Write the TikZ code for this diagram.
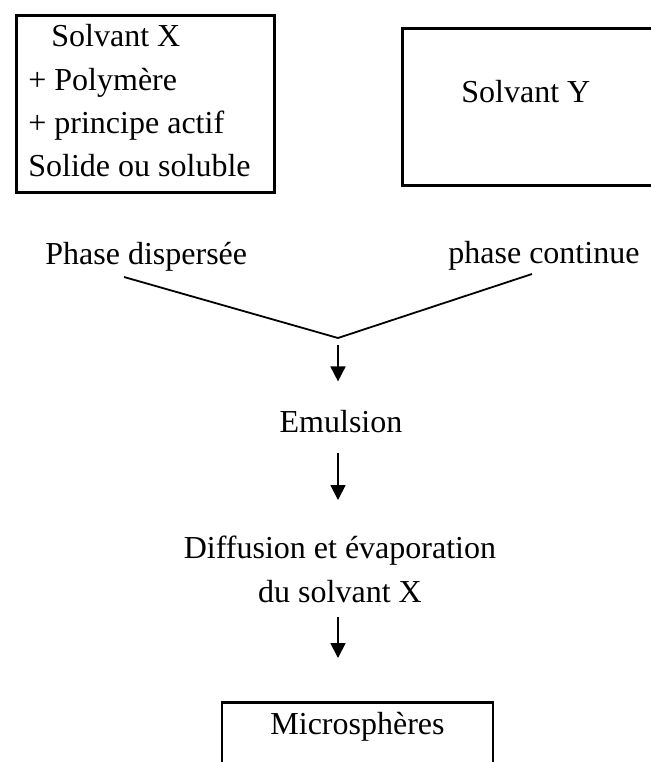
\documentclass[tikz,border=0pt]{standalone}
\usepackage{fontspec}
\setmainfont{Liberation Serif}
\usetikzlibrary{arrows.meta}
\tikzset{
  texte/.style={inner sep=0pt,font=\fontsize{16}{21.7}\selectfont},
  boite/.style={texte,draw=black,line width=1.4pt,rectangle},
  trait/.style={black,line width=0.9pt},
  fleche/.style={black,line width=0.9pt,-{Triangle[length=7.5pt,width=7.5pt]}}
}
\begin{document}
\begin{tikzpicture}[x=0.5pt,y=-0.5pt]
\useasboundingbox (0,0) rectangle (651,762);
\clip (0,0) rectangle (651,762);
% Solvants
\node[boite,anchor=north west,text width=117pt,align=left,inner xsep=6pt,inner ysep=4.5pt,minimum height=88.5pt](solvX)at(15,14){\spaceskip=0pt\xspaceskip=0pt\hspace*{11.5pt}Solvant X\\+ Polymère\\+ principe actif\\Solide ou soluble\rule[-3.5pt]{0pt}{3.5pt}};
\node[boite,anchor=north west,text width=70.5pt,align=left,inner xsep=29.5pt,inner ysep=26pt,text height=11pt,text depth=15.5pt](solvY)at(401,27){\spaceskip=0pt\xspaceskip=0pt Solvant Y};

% Phases
\node[texte,anchor=base west](dispersee)at(45,264){Phase dispersée};
\node[texte,anchor=base west](continue)at(448,263){phase continue};
\coordinate(pd)at(124,277);
\coordinate(pc)at(532,274);
\coordinate(jonction)at(338,338);
\draw[trait](pd)--(jonction)--(pc);

% Etapes
\node[texte,anchor=base](emulsion)at(341,432){Emulsion};
\node[texte,anchor=north,align=center](diffusion)at(340,536){Diffusion et évaporation\\du solvant X};
\node[boite,anchor=north,minimum width=135.5pt,inner ysep=5pt,text height=11pt,text depth=30pt](micro)at(357.5,701){Microsphères};

% Pfeile
\draw[fleche,shorten <=3.5pt,shorten >=14pt](jonction)--(jonction|-emulsion.north);
\draw[fleche,shorten <=10pt,shorten >=18pt](jonction|-emulsion.south)--(jonction|-diffusion.north);
\draw[fleche,shorten <=6.8pt,shorten >=21.5pt](jonction|-diffusion.south)--(jonction|-micro.north);
\end{tikzpicture}
\end{document}
